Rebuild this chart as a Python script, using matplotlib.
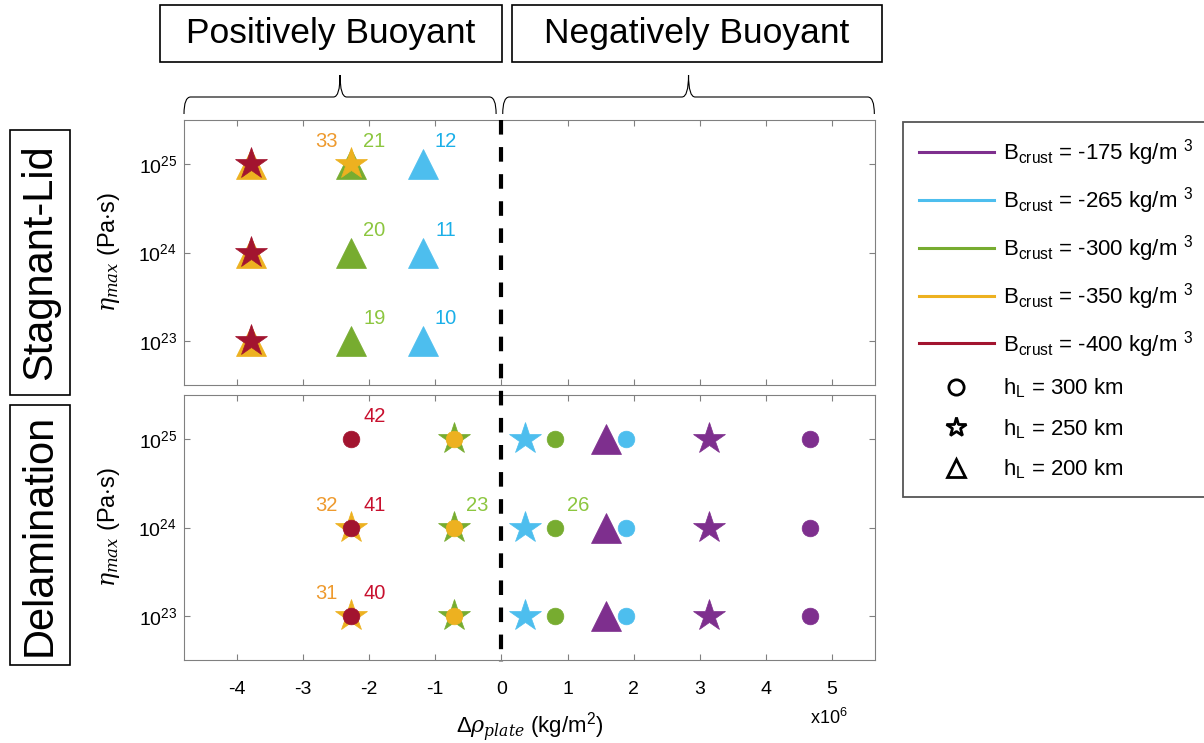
import matplotlib
matplotlib.use('Agg')
import matplotlib.pyplot as plt
from matplotlib.lines import Line2D
from matplotlib.patches import Rectangle, PathPatch
from matplotlib.path import Path
from matplotlib.ticker import NullLocator
from matplotlib import transforms

plt.rcParams['font.family'] = ['Liberation Sans', 'DejaVu Sans']
plt.rcParams['mathtext.fontset'] = 'custom'
plt.rcParams['mathtext.rm'] = 'Liberation Sans'
plt.rcParams['mathtext.it'] = 'DejaVu Serif:italic'
plt.rcParams['mathtext.bf'] = 'Liberation Sans:bold'
plt.rcParams['axes.unicode_minus'] = False

# crustal buoyancy classes (kg/m^3) and their colours
b_crust = [-175, -265, -300, -350, -400]
b_colors = ['#7E2F8E', '#4DBEEE', '#77AC30', '#EDB120', '#A2142F']
b_text_colors = ['#7E2F8E', '#1AAFE8', '#8CC63F', '#EE9A2E', '#C8102E']

# lithosphere thickness (km) and marker shapes
h_l = [300, 250, 200]
h_markers = ['o', '*', '^']
marker_size = {'o': 12, '*': 24, '^': 22}

eta = [1e23, 1e24, 1e25]

# stagnant-lid runs, drawn in this order (later on top)
lid_b = [-350, -400, -300, -350, -265]
lid_h = [200, 250, 200, 250, 200]
lid_drho = [-3.78, -3.78, -2.27, -2.27, -1.19]  # x1e6 kg/m^2
lid_eta = [eta, eta, eta, [1e25], eta]

lid_lab_series = [3, 2, 2, 2, 4, 4, 4]
lid_lab_eta = [1e25, 1e25, 1e24, 1e23, 1e25, 1e24, 1e23]
lid_lab_id = [33, 21, 20, 19, 12, 11, 10]
lid_lab_side = ['l', 'r', 'r', 'r', 'r', 'r', 'r']

# delamination runs
del_b = [-350, -400, -300, -350, -265, -300, -175, -265, -175, -175]
del_h = [250, 300, 250, 300, 250, 300, 200, 300, 250, 300]
del_drho = [-2.27, -2.27, -0.71, -0.71, 0.36, 0.81, 1.58, 1.89, 3.14, 4.66]
del_eta = [[1e23, 1e24], eta, eta, eta, eta, eta, eta, eta, eta, eta]

del_lab_series = [1, 1, 1, 0, 0, 2, 5]
del_lab_eta = [1e25, 1e24, 1e23, 1e24, 1e23, 1e24, 1e24]
del_lab_id = [42, 41, 40, 32, 31, 23, 26]
del_lab_side = ['r', 'r', 'r', 'l', 'l', 'r', 'r']

W, H = 1204, 743
fig = plt.figure(figsize=(W / 100, H / 100), dpi=100)


def px_rect(x0, y0, x1, y1):
    return [x0 / W, 1 - y1 / H, (x1 - x0) / W, (y1 - y0) / H]


ax_lid = fig.add_axes(px_rect(184, 120, 875, 385))
ax_del = fig.add_axes(px_rect(184, 395, 875, 660))

for ax in (ax_lid, ax_del):
    ax.set_yscale('log')
    ax.set_xlim(-4.8, 5.65)
    ax.set_ylim(10 ** 22.5, 10 ** 25.5)
    ax.set_xticks(range(-4, 6))
    ax.set_yticks(eta)
    ax.yaxis.set_minor_locator(NullLocator())
    ax.tick_params(direction='in', top=True, right=True, length=4,
                   color='#808080', labelsize=14)
    ax.tick_params(axis='x', pad=15)
    ax.tick_params(axis='y', pad=5)
    for s in ax.spines.values():
        s.set_color('#808080')
    ax.set_ylabel(r'$\eta_{max}$ (Pa$\cdot$s)', fontsize=17, labelpad=0)
    ax.yaxis.set_label_coords(-0.09, 0.5)
ax_lid.tick_params(labelbottom=False)
ax_del.set_xlabel(r'$\Delta\rho_{plate}$ (kg/m$^{2}$)', fontsize=16)
ax_del.xaxis.set_label_coords(0.5, -0.19)


def draw_runs(ax, bs, hs, xs, etas):
    for b, h, x, e in zip(bs, hs, xs, etas):
        c = b_colors[b_crust.index(b)]
        m = h_markers[h_l.index(h)]
        ax.plot([x] * len(e), e, ls='none', marker=m, ms=marker_size[m],
                color=c, mec=c, mew=0.5)


def label_runs(ax, bs, xs, series, etas, ids, sides):
    for s, e, n, side in zip(series, etas, ids, sides):
        c = b_text_colors[b_crust.index(bs[s])]
        dx = 16.5 if side == 'r' else -18
        ax.annotate(str(n), (xs[s], e), xytext=(dx, 16),
                    textcoords='offset points', ha='center', va='center',
                    color=c, fontsize=14.5)


draw_runs(ax_lid, lid_b, lid_h, lid_drho, lid_eta)
label_runs(ax_lid, lid_b, lid_drho, lid_lab_series, lid_lab_eta,
           lid_lab_id, lid_lab_side)
draw_runs(ax_del, del_b, del_h, del_drho, del_eta)
label_runs(ax_del, del_b, del_drho, del_lab_series, del_lab_eta,
           del_lab_id, del_lab_side)

fig.text(829 / W, 1 - 718 / H, 'x10$^{6}$', ha='center', va='center',
         fontsize=13)

# dashed zero line through both panels
trans = transforms.blended_transform_factory(ax_del.transData, fig.transFigure)
fig.add_artist(Line2D([0, 0], [1 - 120 / H, 1 - 662 / H], transform=trans,
                      color='k', lw=3, dashes=(3.5, 3)))


def brace(x0, x1, yb=114, ym=97, yt=75, dx=0.1):
    xm = (x0 + x1) / 2
    yb, ym, yt = 1 - yb / H, 1 - ym / H, 1 - yt / H
    verts = [(x0, yb), (x0, ym), (x0 + dx, ym), (xm - dx, ym),
             (xm, ym), (xm, yt), (xm, ym), (xm + dx, ym),
             (x1 - dx, ym), (x1, ym), (x1, yb)]
    codes = [Path.MOVETO, Path.CURVE3, Path.CURVE3, Path.LINETO,
             Path.CURVE3, Path.CURVE3, Path.CURVE3, Path.CURVE3,
             Path.LINETO, Path.CURVE3, Path.CURVE3]
    fig.add_artist(PathPatch(Path(verts, codes), transform=trans,
                             fill=False, ec='k', lw=0.8))


brace(-4.8, -0.08)
brace(0.02, 5.64)


def boxed_text(x0, y0, x1, y1, text, size, rot=0):
    fig.add_artist(Rectangle(px_rect(x0, y0, x1, y1)[:2],
                             (x1 - x0) / W, (y1 - y0) / H,
                             transform=fig.transFigure, fill=False,
                             ec='k', lw=1.2))
    fig.text((x0 + x1) / 2 / W, 1 - (y0 + y1) / 2 / H, text, ha='center',
             va='center', fontsize=size, rotation=rot)


boxed_text(160, 5, 502, 62, 'Positively Buoyant', 25.5)
boxed_text(512, 5, 882, 62, 'Negatively Buoyant', 25.5)
boxed_text(10, 130, 70, 395, 'Stagnant-Lid', 30, 90)
boxed_text(10, 405, 70, 665, 'Delamination', 30, 90)

handles = [Line2D([], [], color=c, lw=2.2) for c in b_colors]
handles += [Line2D([], [], ls='none', marker=m, ms=s, mfc='white', mec='k',
                   mew=2, color='k')
            for m, s in zip(h_markers, [11, 15, 13])]
labels = [f'B$_{{\\mathrm{{crust}}}}$ = {b} kg/m $^{{3}}$' for b in b_crust]
labels += [f'h$_{{\\mathrm{{L}}}}$ = {h} km' for h in h_l]
leg = fig.legend(handles, labels, loc='upper left',
                 bbox_to_anchor=(903 / W, 1 - 122 / H), fontsize=16,
                 fancybox=False, edgecolor='#555555', framealpha=1,
                 handlelength=3.4, handletextpad=0.4, borderpad=0.7,
                 labelspacing=0.76, borderaxespad=0)
leg.get_frame().set_linewidth(1.3)

fig.savefig('out.png', dpi=100)
